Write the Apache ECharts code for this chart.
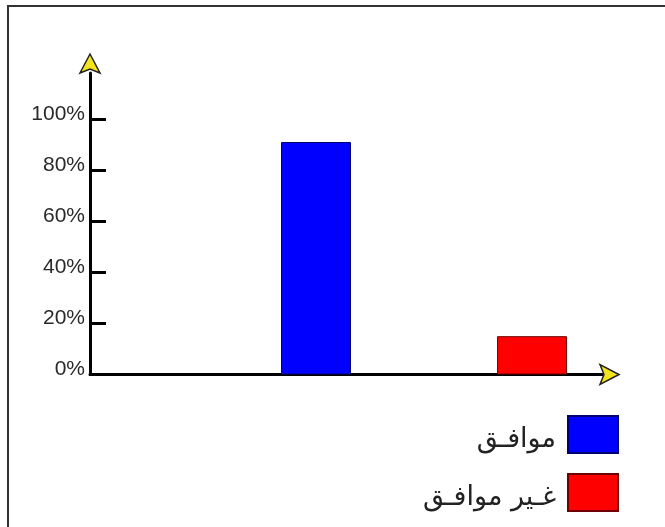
<!DOCTYPE html>
<html><head><meta charset="utf-8">
<script src="https://cdn.jsdelivr.net/npm/echarts@6/dist/echarts.min.js"></script>
<style>html,body{margin:0;padding:0;background:#fff}#c{width:665px;height:527px}</style>
</head><body><div id="c"></div>
<script>
const categories = ['موافـق', 'غـير موافـق'];
const categoryPositions = [1, 2];
const values = [91, 15];
const barColors = ['#0000ff', '#ff0000'];
const borderColors = ['#00006e', '#6e0000'];
const yTicks = [0, 20, 40, 60, 80, 100];

const chart = echarts.init(document.getElementById('c'), null, {renderer: 'canvas'});
const series = categories.map((name, i) => ({
  name: name, type: 'bar', barWidth: 70, barGap: '-100%',
  data: [[categoryPositions[i], values[i]]],
  itemStyle: {color: barColors[i], borderColor: borderColors[i], borderWidth: 1}
}));
const option = {
  animation: false,
  backgroundColor: '#fff',
  grid: {left: 90, right: 61, top: 73, bottom: 152.5, containLabel: false, outerBoundsMode: 'none'},
  xAxis: {
    type: 'value', min: -0.046, max: 2.333,
    axisLine: {show: true, onZero: false, lineStyle: {color: '#000', width: 3}},
    axisTick: {show: false}, axisLabel: {show: false}, splitLine: {show: false}
  },
  yAxis: {
    type: 'value', min: 0, max: 118,
    axisLine: {show: true, onZero: false, lineStyle: {color: '#000', width: 3}},
    axisTick: {show: true, inside: true, length: 16, customValues: yTicks, lineStyle: {color: '#000', width: 3}},
    axisLabel: {customValues: yTicks, formatter: '{value}%', margin: 5, color: '#2a2a2a',
      fontSize: 21, fontFamily: '"Liberation Sans", Arial, sans-serif', verticalAlign: 'bottom', lineHeight: 10},
    splitLine: {show: false}
  },
  legend: {
    orient: 'vertical', right: 41, top: 410, itemWidth: 50, itemHeight: 37, itemGap: 19,
    align: 'right', icon: 'rect',
    formatter: '{t|{name}}',
    textStyle: {fontSize: 27, color: '#222', fontFamily: '"DejaVu Sans", sans-serif',
      rich: {t: {fontSize: 27, color: '#222', fontFamily: '"DejaVu Sans", sans-serif', padding: [10, 7, 0, 0]}}},
    data: categories
  },
  series: series
};
chart.setOption(option);

const origin = chart.convertToPixel({gridIndex: 0}, [option.xAxis.min, 0]);
const yEnd = chart.convertToPixel({gridIndex: 0}, [option.xAxis.min, option.yAxis.max]);
const xEnd = chart.convertToPixel({gridIndex: 0}, [option.xAxis.max, 0]);
const arrowStyle = {fill: '#f3e41c', stroke: '#222', lineWidth: 1.5};
chart.setOption({
  graphic: [
    {type: 'rect', shape: {x: 8, y: 6, width: 700, height: 600}, style: {fill: 'none', stroke: '#333', lineWidth: 2}, z: 100},
    {type: 'polygon', z: 100, shape: {points: [
      [origin[0], yEnd[1] - 19], [origin[0] + 10, yEnd[1]], [origin[0], yEnd[1] - 4], [origin[0] - 10, yEnd[1]]
    ]}, style: arrowStyle},
    {type: 'polygon', z: 100, shape: {points: [
      [xEnd[0] + 15, origin[1]], [xEnd[0] - 4, origin[1] + 10], [xEnd[0], origin[1]], [xEnd[0] - 4, origin[1] - 10]
    ]}, style: arrowStyle}
  ]
});
</script></body></html>
